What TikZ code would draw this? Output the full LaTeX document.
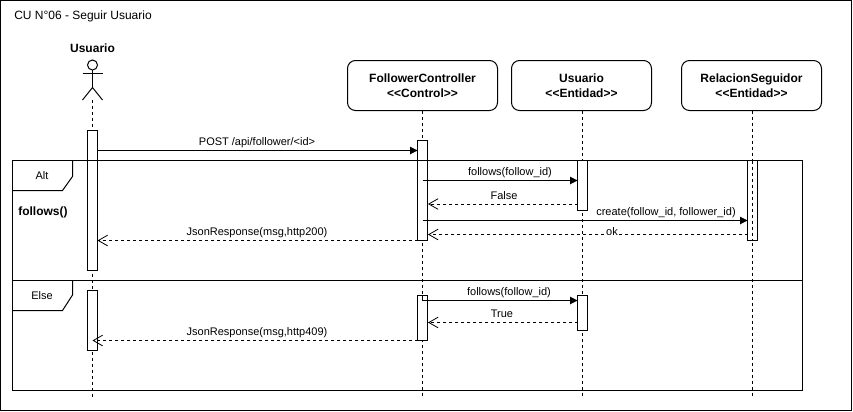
\documentclass[tikz,border=0pt]{standalone}
\usepackage{fontspec}
\setmainfont{Liberation Sans}
\usetikzlibrary{arrows.meta,positioning}
\newcommand{\smalltxt}{\fontsize{8.25pt}{10pt}\selectfont}
\newcommand{\boldtxt}{\fontsize{9pt}{11.25pt}\selectfont\bfseries}
\tikzstyle{classbox} = [draw,rounded corners=6pt,align=center,font=\boldtxt,minimum width=105pt,minimum height=37.5pt,inner sep=0pt,outer sep=0pt,line width=0.75pt]
\tikzstyle{bar} = [draw,fill=white,minimum width=7.5pt,inner sep=0pt,outer sep=0pt,line width=0.75pt]
\tikzstyle{lifeline} = [line width=0.75pt,dash pattern=on 2.25pt off 2.25pt]
\tikzstyle{msg} = [line width=0.75pt,-{Triangle[length=5.5pt,width=5.5pt]}]
\tikzstyle{reply} = [line width=0.75pt,dash pattern=on 2.25pt off 2.25pt,-{Straight Barb[length=7pt,width=8pt,line width=0.6pt]}]
\tikzstyle{txt} = [font=\smalltxt,inner sep=0pt]

\begin{document}
\begin{tikzpicture}[x=0.75pt,y=-0.75pt]
\useasboundingbox (0,0) rectangle (853,411);
\draw[line width=0.75pt] (0.75,0.5) rectangle (851.5,410.5);
\node[txt,font=\fontsize{9pt}{11pt}\selectfont,right] (title) at (14,16) {CU N°06 - Seguir Usuario};

% Actor
\node[txt,font=\boldtxt] (actorName) at (92.5,48) {Usuario};
\node[draw,circle,minimum size=7.5pt,inner sep=0pt,outer sep=0pt,line width=0.75pt] (actorHead) at (92.5,65) {};
\coordinate (actorHip) at (92.5,87.5);
\coordinate (actorFoot) at (92.5,100);
\draw[line width=0.75pt] (actorHead.south) -- (actorHip);
\draw[line width=0.75pt] (82.5,73.5) -- (102.5,73.5);
\draw[line width=0.75pt] (82.5,100) -- (actorHip) -- (102.5,100);

% Classes
\node[classbox,minimum width=112.5pt] (boxF) at (422.5,85.5) {FollowerController\\<{}<Control>{}>};
\node[classbox] (boxU) at (581.5,85.5) {Usuario\\<{}<Entidad>{}>};
\node[classbox] (boxR) at (751.5,85.5) {RelacionSeguidor\\<{}<Entidad>{}>};

% Lifelines
\coordinate (endA) at (92.5,397);
\coordinate (endF) at (422.5,397);
\coordinate (endU) at (582.5,397);
\coordinate (endR) at (752.5,397);
\draw[lifeline] (actorFoot) -- (endA);
\draw[lifeline] (422.5,110.5) -- (endF);
\draw[lifeline] (582.5,110.5) -- (endU);
\draw[lifeline] (752.5,110.5) -- (endR);

% Activations
\node[bar,minimum height=105pt] (actA) at (92.5,200.5) {};
\node[bar,minimum height=45pt] (actB) at (92.5,320.5) {};
\node[bar,minimum height=75pt] (actF) at (422.5,190.5) {};
\node[bar,minimum height=33.75pt] (actG) at (422.5,318) {};
\node[bar,minimum height=37.5pt] (actU) at (582.5,185.5) {};
\node[bar,minimum height=26.25pt] (actV) at (582.5,313) {};
\node[bar,minimum height=60pt] (actR) at (752.5,200.5) {};
\draw[lifeline] (actR.north) -- (actR.south);

% Alt and else frame
\draw[line width=0.75pt] (12.5,160.5) rectangle (802.5,390.5);
\draw[line width=0.75pt] (12.5,280.5) -- (802.5,280.5);
\draw[line width=0.75pt] (72.5,160.5) -- (72.5,176.5) -- (62.5,190.5) -- (12.5,190.5);
\draw[line width=0.75pt] (72.5,280.5) -- (72.5,295) -- (62.5,310.5) -- (12.5,310.5);
\node[txt] (altName) at (42,176) {Alt};
\node[txt] (elseName) at (42,295.5) {Else};
\node[txt,font=\boldtxt,right] (altGuard) at (18,212.5) {follows()};

% Messages
\draw[msg] (actA.east |- 0,150.5) -- (actF.west |- 0,150.5);
\node[txt] (lblPost) at (257,142.5) {POST /api/follower/<id>};
\draw[msg] (actF.center |- 0,180.5) -- (actU.west |- 0,180.5);
\node[txt] (lblFollows) at (510,172.5) {follows(follow\_id)};
\draw[reply] (actU.west |- 0,204) -- (428,204);
\node[txt] (lblFalse) at (504,196) {False};
\draw[msg] (actF.center |- 0,220.5) -- (actR.west |- 0,220.5);
\node[txt] (lblCreate) at (666,212.5) {create(follow\_id, follower\_id)};
\draw[reply] (actR.west |- 0,234.5) -- (428,234.5);
\node[txt,fill=white,inner sep=1pt] (lblOk) at (612,232) {ok};
\draw[reply] (actF.west |- 0,240.5) -- (actA.east |- 0,240.5);
\node[txt] (lblOkJson) at (257,232.5) {JsonResponse(msg,http200)};
\draw[msg] (actG.north) |- (actV.west |- 0,300.5);
\node[txt] (lblFollowsTwo) at (509,292.5) {follows(follow\_id)};
\draw[reply] (actV.west |- 0,322.5) -- (428,322.5);
\node[txt] (lblTrue) at (502,314) {True};
\draw[reply] (actG.west |- 0,340.5) -- (actB.center |- 0,340.5);
\node[txt] (lblErrJson) at (257,332.5) {JsonResponse(msg,http409)};
\end{tikzpicture}
\end{document}
